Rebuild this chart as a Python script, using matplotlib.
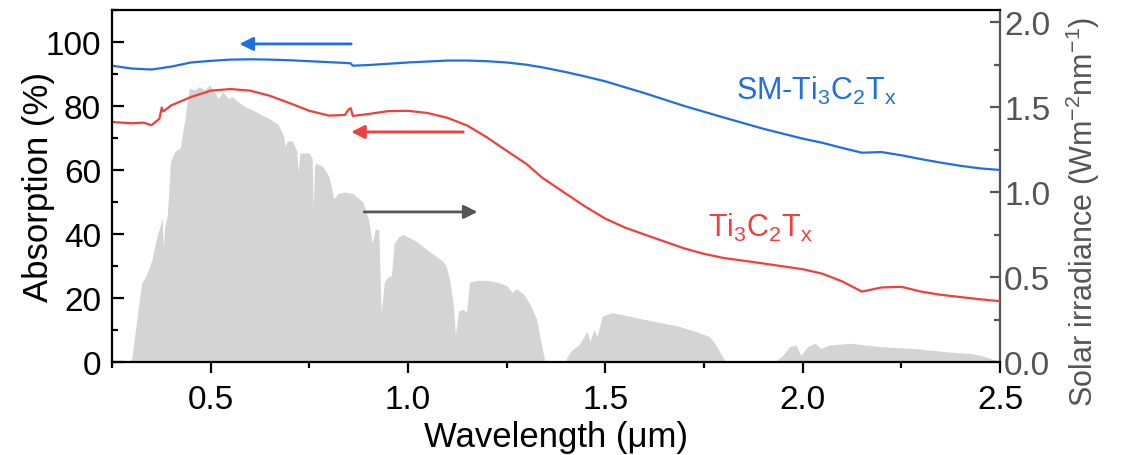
import matplotlib
matplotlib.use("Agg")
import matplotlib.pyplot as plt
from matplotlib.ticker import MultipleLocator

plt.rcParams['font.family'] = ['Liberation Sans', 'DejaVu Sans']
plt.rcParams['mathtext.fontset'] = 'custom'
plt.rcParams['mathtext.rm'] = 'Liberation Sans'
plt.rcParams['mathtext.it'] = 'Liberation Sans'
plt.rcParams['mathtext.bf'] = 'Liberation Sans'

# ---------------- data ----------------
blue_wl = [0.25, 0.30, 0.35, 0.40, 0.45, 0.50, 0.55, 0.60, 0.65, 0.70, 0.75, 0.80,
           0.85, 0.855, 0.86, 0.90, 0.95, 1.00, 1.05, 1.10, 1.15, 1.20, 1.25, 1.30,
           1.34, 1.40, 1.45, 1.50, 1.60, 1.70, 1.80, 1.90, 2.00, 2.05, 2.10, 2.15,
           2.20, 2.25, 2.30, 2.35, 2.40, 2.45, 2.50]
blue_abs = [92.6, 91.7, 91.4, 92.3, 93.6, 94.1, 94.5, 94.6, 94.5, 94.3, 94.0, 93.7,
            93.4, 93.3, 92.6, 92.8, 93.2, 93.6, 93.9, 94.2, 94.2, 94.0, 93.6, 92.9,
            92.1, 90.6, 89.2, 87.7, 84.0, 80.0, 76.4, 72.9, 69.8, 68.5, 66.9, 65.4,
            65.6, 64.6, 63.4, 62.3, 61.3, 60.5, 60.0]

red_wl = [0.25, 0.30, 0.33, 0.35, 0.37, 0.376, 0.38, 0.40, 0.45, 0.50, 0.55, 0.60,
          0.65, 0.70, 0.75, 0.80, 0.84, 0.85, 0.855, 0.86, 0.90, 0.95, 1.00, 1.05,
          1.10, 1.15, 1.20, 1.25, 1.30, 1.34, 1.40, 1.45, 1.50, 1.55, 1.60, 1.70,
          1.75, 1.80, 1.90, 2.00, 2.05, 2.10, 2.15, 2.20, 2.25, 2.30, 2.35, 2.40,
          2.45, 2.50]
red_abs = [75.0, 74.6, 74.8, 74.0, 76.0, 79.5, 78.3, 80.2, 82.8, 84.8, 85.3, 84.8,
           83.2, 80.9, 78.5, 77.0, 77.2, 79.0, 79.3, 76.9, 77.5, 78.4, 78.5, 77.8,
           76.3, 73.9, 70.2, 66.0, 61.9, 57.6, 52.6, 48.5, 44.8, 42.0, 39.8, 35.5,
           33.8, 32.5, 30.8, 29.0, 27.6, 25.2, 22.0, 23.3, 23.5, 22.0, 21.0, 20.3,
           19.6, 19.0]

solar_wl = [0.25, 0.29, 0.30, 0.309, 0.32, 0.326, 0.335, 0.345, 0.352, 0.360, 0.364,
            0.372, 0.377, 0.380, 0.384, 0.390, 0.395, 0.398, 0.410, 0.423, 0.432,
            0.440, 0.446, 0.460, 0.471, 0.485, 0.497, 0.512, 0.520, 0.530, 0.545,
            0.555, 0.570, 0.588, 0.600, 0.624, 0.650, 0.670, 0.685, 0.688, 0.695,
            0.708, 0.718, 0.722, 0.726, 0.733, 0.749, 0.757, 0.760, 0.763, 0.767,
            0.784, 0.800, 0.812, 0.822, 0.838, 0.861, 0.886, 0.894, 0.900, 0.909,
            0.917, 0.926, 0.932, 0.940, 0.949, 0.958, 0.965, 0.978, 0.988, 1.021,
            1.054, 1.090, 1.097, 1.105, 1.115, 1.120, 1.128, 1.140, 1.148, 1.156,
            1.174, 1.199, 1.225, 1.250, 1.263, 1.275, 1.293, 1.309, 1.326, 1.339,
            1.347, 1.400, 1.403, 1.415, 1.433, 1.446, 1.454, 1.461, 1.471, 1.479,
            1.492, 1.517, 1.560, 1.600, 1.644, 1.687, 1.728, 1.764, 1.780, 1.797,
            1.805, 1.930, 1.950, 1.967, 1.983, 1.995, 2.013, 2.031, 2.046, 2.069,
            2.120, 2.197, 2.280, 2.365, 2.425, 2.450, 2.476, 2.490, 2.500]
solar_irr = [0.0, 0.0, 0.02, 0.18, 0.38, 0.47, 0.50, 0.56, 0.61, 0.70, 0.74,
             0.80, 0.85, 0.68, 0.80, 0.86, 1.05, 1.18, 1.24, 1.26, 1.39,
             1.52, 1.61, 1.60, 1.62, 1.60, 1.63, 1.58, 1.55, 1.59, 1.55,
             1.56, 1.53, 1.50, 1.49, 1.46, 1.43, 1.40, 1.33, 1.27, 1.30,
             1.30, 1.24, 1.12, 1.23, 1.23, 1.23, 1.20, 0.90, 1.15, 1.17,
             1.15, 1.09, 0.96, 0.99, 1.00, 0.99, 0.94, 0.88, 0.84, 0.70,
             0.78, 0.78, 0.29, 0.47, 0.50, 0.51, 0.70, 0.74, 0.75, 0.71,
             0.65, 0.59, 0.56, 0.49, 0.33, 0.16, 0.30, 0.31, 0.29, 0.47,
             0.48, 0.48, 0.47, 0.45, 0.41, 0.43, 0.40, 0.34, 0.25, 0.09,
             0.0, 0.0, 0.03, 0.07, 0.10, 0.15, 0.18, 0.12, 0.19, 0.15,
             0.27, 0.29, 0.27, 0.25, 0.23, 0.21, 0.18, 0.15, 0.10, 0.03,
             0.0, 0.0, 0.04, 0.09, 0.10, 0.04, 0.09, 0.11, 0.08, 0.10,
             0.11, 0.09, 0.08, 0.06, 0.05, 0.04, 0.02, 0.01, 0.0]

x_ticks = [0.5, 1.0, 1.5, 2.0, 2.5]
x_ticklabels = ["0.5", "1.0", "1.5", "2.0", "2.5"]
left_ticks = [0, 20, 40, 60, 80, 100]
right_ticks = [0.0, 0.5, 1.0, 1.5, 2.0]
right_ticklabels = ["0.0", "0.5", "1.0", "1.5", "2.0"]

BLUE = '#1f6fe0'
RED = '#ef3f3f'
GRAY_FILL = '#d4d4d4'
DARK_GRAY = '#555555'

# ---------------- figure ----------------
fig = plt.figure(figsize=(11.22, 4.56), dpi=100)
ax = fig.add_axes([112/1122, 93/456, 888/1122, 352/456])
ax2 = ax.twinx()
ax.set_zorder(ax2.get_zorder() + 1)
ax.patch.set_visible(False)

ax2.fill_between(solar_wl, solar_irr, 0, color=GRAY_FILL, linewidth=0)

ax.plot(blue_wl, blue_abs, color=BLUE, lw=1.6)
ax.plot(red_wl, red_abs, color=RED, lw=1.6)

ax.set_xlim(0.25, 2.5)
ax.set_ylim(0, 110)
ax2.set_ylim(0, 110 * 3.2 / 170)

ax.set_xticks(x_ticks)
ax.set_xticklabels(x_ticklabels)
ax.xaxis.set_minor_locator(MultipleLocator(0.25))
ax.set_yticks(left_ticks)
ax.yaxis.set_minor_locator(MultipleLocator(10))
ax2.set_yticks(right_ticks)
ax2.set_yticklabels(right_ticklabels)
ax2.yaxis.set_minor_locator(MultipleLocator(0.25))

for s in ['left', 'top', 'bottom']:
    ax.spines[s].set_linewidth(1.6)
    ax.spines[s].set_color('black')
ax.spines['right'].set_visible(False)
for s in ['left', 'top', 'bottom']:
    ax2.spines[s].set_visible(False)
ax2.spines['right'].set_linewidth(1.6)
ax2.spines['right'].set_color(DARK_GRAY)

ax.tick_params(axis='x', which='major', direction='out', length=8, width=1.6,
               labelsize=24, pad=8, top=False)
ax.tick_params(axis='x', which='minor', direction='out', length=4.5, width=1.6, top=False)
ax.tick_params(axis='y', which='major', direction='in', length=8.5, width=1.6,
               labelsize=24, pad=8, right=False)
ax.tick_params(axis='y', which='minor', direction='in', length=4.5, width=1.6, right=False)
ax2.tick_params(axis='y', which='major', direction='in', length=7, width=1.6,
                labelsize=24, pad=3, colors=DARK_GRAY)
ax2.tick_params(axis='y', which='minor', direction='in', length=4, width=1.6,
                colors=DARK_GRAY)

fig.text(39/1122, 1 - 187/456, 'Absorption (%)', rotation=90, ha='center',
         va='center', fontsize=25)
fig.text(1083/1122, 1 - 212/456, 'Solar irradiance (Wm$^{-2}$nm$^{-1}$)',
         rotation=90, ha='center', va='center', fontsize=22, color=DARK_GRAY)
fig.text(556/1122, 1 - 447/456, 'Wavelength (μm)', ha='center', va='baseline',
         fontsize=25)

ax.text(1.83, 82.2, 'SM-Ti$_3$C$_2$T$_x$', color=BLUE, fontsize=22,
        ha='left', va='baseline')
ax.text(1.759, 39.4, 'Ti$_3$C$_2$T$_x$', color=RED, fontsize=22,
        ha='left', va='baseline')

arrow_kw = dict(arrowstyle='-|>', lw=2, mutation_scale=20, shrinkA=0, shrinkB=0)
ax.annotate('', xy=(0.573, 99.4), xytext=(0.856, 99.4),
            arrowprops=dict(color=BLUE, **arrow_kw))
ax.annotate('', xy=(0.856, 71.9), xytext=(1.14, 71.9),
            arrowprops=dict(color=RED, **arrow_kw))
ax.annotate('', xy=(1.176, 46.9), xytext=(0.889, 46.9),
            arrowprops=dict(color=DARK_GRAY, **arrow_kw))

fig.savefig('out.png', dpi=100)
